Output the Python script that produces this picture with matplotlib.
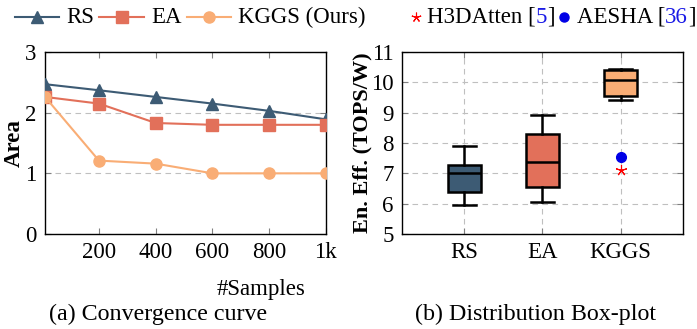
import matplotlib
matplotlib.use("Agg")
import matplotlib.pyplot as plt
from matplotlib.lines import Line2D
from matplotlib.offsetbox import HPacker, TextArea, DrawingArea, AnchoredOffsetbox

plt.rcParams["font.family"] = ["Liberation Serif", "DejaVu Serif"]

# convergence curve data
samples = [10, 200, 400, 600, 800, 1000]
rs_area = [2.47, 2.37, 2.26, 2.15, 2.03, 1.89]
ea_area = [2.26, 2.15, 1.83, 1.80, 1.80, 1.80]
kggs_area = [2.26, 1.21, 1.16, 1.00, 1.00, 1.00]
sample_ticks = [200, 400, 600, 800, 1000]
sample_ticklabels = ["200", "400", "600", "800", "1k"]

# box-plot data (energy efficiency, TOPS/W)
methods = ["RS", "EA", "KGGS"]
whisker_lo = [5.96, 6.05, 9.42]
q1 = [6.39, 6.55, 9.54]
medians = [7.00, 7.37, 10.09]
q3 = [7.28, 8.31, 10.40]
whisker_hi = [7.90, 8.91, 10.45]
h3datten_eff = 7.10
aesha_eff = 7.55

c_rs = "#3d5b74"
c_ea = "#e2705a"
c_kggs = "#f9ad75"
colors = [c_rs, c_ea, c_kggs]
fs = 16.5

fig = plt.figure(figsize=(6.97, 3.29), dpi=100)
ax1 = fig.add_axes([0.0646, 0.2888, 0.403, 0.553])
ax2 = fig.add_axes([0.5768, 0.2888, 0.403, 0.553])

grid_kw = dict(color="#bfbfbf", linestyle=(0, (5, 4)), linewidth=0.8)

# (a) convergence curve
ax1.plot(samples, rs_area, color=c_rs, marker="^", ms=9, lw=1.5, zorder=3)
ax1.plot(samples, ea_area, color=c_ea, marker="s", ms=9, lw=1.5, zorder=3)
ax1.plot(samples, kggs_area, color=c_kggs, marker="o", ms=8, lw=1.5, zorder=3)
ax1.set_xlim(samples[0], 1000)
ax1.set_ylim(0, 3)
ax1.set_xticks(sample_ticks)
ax1.set_xticklabels(sample_ticklabels)
ax1.set_yticks([0, 1, 2, 3])
ax1.yaxis.grid(True, **grid_kw)
ax1.set_ylabel("Area", fontsize=fs, fontweight="bold")
ax1.yaxis.set_label_coords(-0.072, 0.5)
ax1.set_xlabel("#Samples", fontsize=fs)
ax1.xaxis.set_label_coords(0.77, -0.245)

# (b) distribution box-plot
stats = []
for i in range(len(methods)):
    stats.append(dict(label=methods[i], whislo=whisker_lo[i], q1=q1[i],
                      med=medians[i], q3=q3[i], whishi=whisker_hi[i], fliers=[]))
bp = ax2.bxp(stats, positions=[1, 2, 3], widths=0.42, patch_artist=True,
             showfliers=False,
             boxprops=dict(linewidth=1.8, edgecolor="black"),
             whiskerprops=dict(linewidth=1.8, color="black"),
             capprops=dict(linewidth=1.8, color="black"),
             medianprops=dict(linewidth=1.8, color="black"),
             capwidths=0.3)
for patch, c in zip(bp["boxes"], colors):
    patch.set_facecolor(c)
ax2.plot([3], [h3datten_eff], linestyle="none", marker=(5, 2, 0), ms=8,
         mew=0.8, color="red", zorder=4)
ax2.plot([3], [aesha_eff], linestyle="none", marker="o", ms=7,
         color="#0000e6", zorder=4)
ax2.set_xlim(0.2, 3.8)
ax2.set_ylim(5, 11)
ax2.set_yticks(range(5, 12))
ax2.grid(True, **grid_kw)
ax2.set_axisbelow(True)
ax2.set_ylabel("En. Eff. (TOPS/W)", fontsize=fs - 0.5, fontweight="bold")
ax2.yaxis.set_label_coords(-0.105, 0.5)

for ax in (ax1, ax2):
    ax.tick_params(labelsize=fs, direction="in", length=4, width=0.8,
                   color="#808080", top=True, right=True, pad=6)
    for s in ax.spines.values():
        s.set_linewidth(1.0)

# subcaptions
fig.text(0.227, 0.045, "(a) Convergence curve", ha="center", va="center", fontsize=fs + 0.8)
fig.text(0.769, 0.045, "(b) Distribution Box-plot", ha="center", va="center", fontsize=fs + 0.8)


# legend across the top
def line_handle(color, marker, ms):
    da = DrawingArea(32, 10, 0, 0)
    da.add_artist(Line2D([0, 16, 32], [5, 5, 5], color=color, lw=1.5,
                         marker=marker, ms=ms, markevery=[1]))
    return da


def marker_handle(color, marker, ms, mew=1.0):
    da = DrawingArea(7, 10, 0, 0)
    da.add_artist(Line2D([3.5], [5], color=color, linestyle="none",
                         marker=marker, ms=ms, mew=mew))
    return da


def txt(s, color="black"):
    return TextArea(s, textprops=dict(fontsize=fs, color=color))


def entry(children, sep=5):
    return HPacker(children=children, align="center", pad=0, sep=sep)


items = [
    entry([line_handle(c_rs, "^", 9), txt("RS")]),
    entry([line_handle(c_ea, "s", 9), txt("EA")]),
    entry([line_handle(c_kggs, "o", 8), txt("KGGS (Ours)")]),
    entry([marker_handle("red", (5, 2, 0), 7, 0.8),
           entry([txt("H3DAtten ["), txt("5", "#1a1ae6"), txt("]")], sep=0)], sep=4),
    entry([marker_handle("#0000e6", "o", 6.5),
           entry([txt("AESHA ["), txt("36", "#1a1ae6"), txt("]")], sep=0)], sep=6),
]
row = HPacker(children=items[:3], align="center", pad=0, sep=4)
row2 = HPacker(children=items[3:], align="center", pad=0, sep=3)
full = HPacker(children=[row, row2], align="center", pad=0, sep=33)
anch = AnchoredOffsetbox(loc="center left", child=full, pad=0, frameon=False,
                         bbox_to_anchor=(0.021, 0.948), bbox_transform=fig.transFigure,
                         borderpad=0)
fig.add_artist(anch)

fig.savefig("out.png", dpi=100)
